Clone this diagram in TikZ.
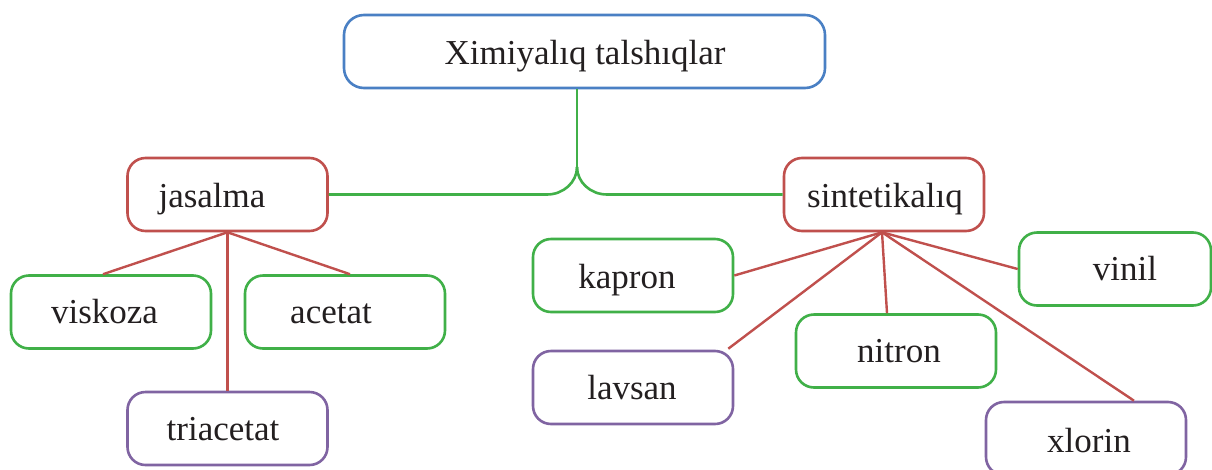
\documentclass[tikz,border=0pt]{standalone}
\usepackage{fontspec}
\setmainfont{Liberation Serif}
\definecolor{cblue}{RGB}{74,128,196}
\definecolor{cred}{RGB}{192,80,77}
\definecolor{cgreen}{RGB}{64,176,72}
\definecolor{cpurple}{RGB}{128,100,162}
\definecolor{ink}{RGB}{35,31,32}
\tikzset{
  box/.style={draw, line width=2.6pt, rounded corners=18pt, minimum width=200pt,
    minimum height=73pt, inner sep=0pt, fill=white},
  lbl/.style={anchor=base, inner sep=0pt, font=\fontsize{35}{42}\selectfont, text=ink},
  rline/.style={draw=cred, line width=2.4pt},
  gline/.style={draw=cgreen, line width=2.6pt},
}
\begin{document}
\begin{tikzpicture}[x=1pt,y=-1pt]
\fill[white] (0,0) rectangle (1212,469);
\useasboundingbox (0,0) rectangle (1212,469);
% boxes
\node[box, draw=cblue, minimum width=481pt, rounded corners=20pt] (top) at (584.5,51.5) {};
\node[box, draw=cred] (jas) at (227.5,194.5) {};
\node[box, draw=cgreen] (visk) at (111,312) {};
\node[box, draw=cgreen] (acet) at (345,312) {};
\node[box, draw=cpurple] (tri) at (227.5,428.5) {};
\node[box, draw=cred] (sin) at (884,194.5) {};
\node[box, draw=cgreen] (kap) at (633,275.5) {};
\node[box, draw=cpurple] (lav) at (633,387.5) {};
\node[box, draw=cgreen] (nit) at (896,351) {};
\node[box, draw=cgreen, minimum width=192pt] (vin) at (1115,269) {};
\node[box, draw=cpurple] (xlo) at (1086,438.5) {};
% labels
\node[lbl] (topT) at (585,64) {Ximiyalıq talshıqlar};
\node[lbl] (jasT) at (212,207) {jasalma};
\node[lbl] (viskT) at (104.5,323) {viskoza};
\node[lbl] (acetT) at (331,323) {acetat};
\node[lbl] (triT) at (223,440) {triacetat};
\node[lbl] (sinT) at (885,207) {sintetikalıq};
\node[lbl] (kapT) at (627,288) {kapron};
\node[lbl] (lavT) at (632,399) {lavsan};
\node[lbl] (nitT) at (899,362) {nitron};
\node[lbl] (vinT) at (1125,280) {vinil};
\node[lbl] (xloT) at (1089,452) {xlorin};
% green fork
\coordinate (fork) at (577,167);
\draw[gline] ([xshift=-7.5pt]top.south) -- (fork);
\draw[gline] (fork) .. controls (577,182) and (563.6,194.5) .. (547,194.5) -- (jas.east);
\draw[gline] (fork) .. controls (577,182) and (590.4,194.5) .. (607,194.5) -- (sin.west);
% jasalma branches
\draw[rline] (jas.south) -- ([xshift=-8pt]visk.north);
\draw[rline] (jas.south) -- ([xshift=5pt]acet.north);
\draw[rline] (jas.south) -- (tri.north);
% sintetikaliq branches
\coordinate (hub) at ([xshift=-2pt]sin.south);
\draw[rline] (hub) -- (kap.east);
\draw[rline] (hub) -- ([xshift=-6pt,yshift=1pt]lav.north east);
\draw[rline] (hub) -- ([xshift=-9pt]nit.north);
\draw[rline] (hub) -- (vin.west);
\draw[rline] (hub) -- ([xshift=48pt]xlo.north);
\end{tikzpicture}
\end{document}
